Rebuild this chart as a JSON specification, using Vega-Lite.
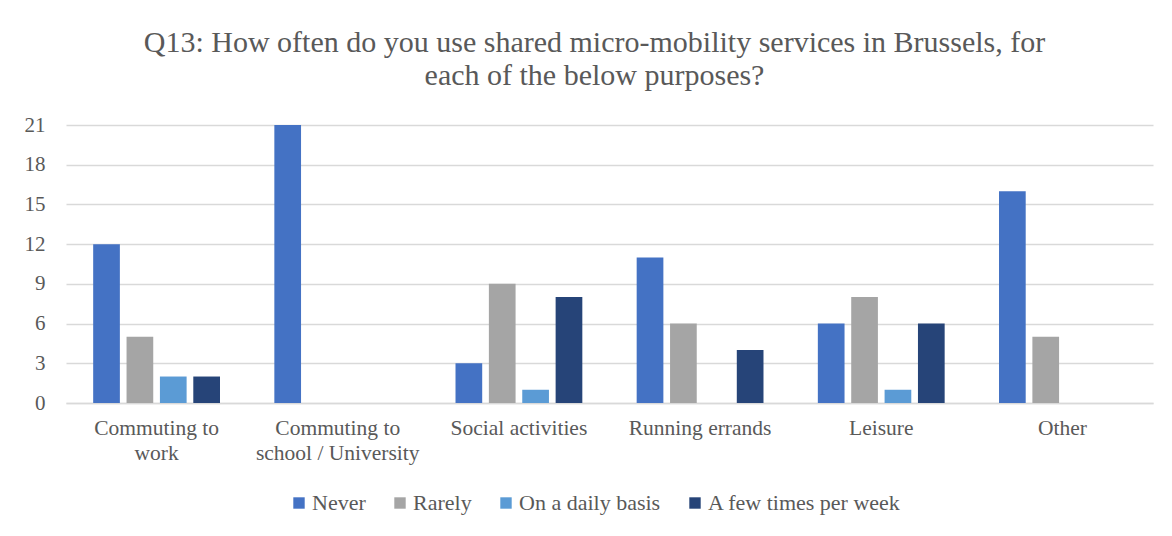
{
  "$schema": "https://vega.github.io/schema/vega-lite/v6.json",
  "width": 1087,
  "height": 278,
  "autosize": {"type": "none"},
  "padding": {"left": 66, "top": 125, "right": 19, "bottom": 133},
  "background": "white",
  "title": {
    "text": ["Q13: How often do you use shared micro-mobility services in Brussels, for", "each of the below purposes?"],
    "font": "Liberation Serif",
    "fontSize": 30,
    "fontWeight": "normal",
    "color": "#595959",
    "anchor": "middle",
    "frame": "group",
    "dx": -15,
    "offset": 23,
    "lineHeight": 33
  },
  "data": {
    "values": [
      {"purpose": "Commuting to work", "frequency": "Never", "count": 12},
      {"purpose": "Commuting to work", "frequency": "Rarely", "count": 5},
      {"purpose": "Commuting to work", "frequency": "On a daily basis", "count": 2},
      {"purpose": "Commuting to work", "frequency": "A few times per week", "count": 2},
      {"purpose": "Commuting to school / University", "frequency": "Never", "count": 21},
      {"purpose": "Commuting to school / University", "frequency": "Rarely", "count": 0},
      {"purpose": "Commuting to school / University", "frequency": "On a daily basis", "count": 0},
      {"purpose": "Commuting to school / University", "frequency": "A few times per week", "count": 0},
      {"purpose": "Social activities", "frequency": "Never", "count": 3},
      {"purpose": "Social activities", "frequency": "Rarely", "count": 9},
      {"purpose": "Social activities", "frequency": "On a daily basis", "count": 1},
      {"purpose": "Social activities", "frequency": "A few times per week", "count": 8},
      {"purpose": "Running errands", "frequency": "Never", "count": 11},
      {"purpose": "Running errands", "frequency": "Rarely", "count": 6},
      {"purpose": "Running errands", "frequency": "On a daily basis", "count": 0},
      {"purpose": "Running errands", "frequency": "A few times per week", "count": 4},
      {"purpose": "Leisure", "frequency": "Never", "count": 6},
      {"purpose": "Leisure", "frequency": "Rarely", "count": 8},
      {"purpose": "Leisure", "frequency": "On a daily basis", "count": 1},
      {"purpose": "Leisure", "frequency": "A few times per week", "count": 6},
      {"purpose": "Other", "frequency": "Never", "count": 16},
      {"purpose": "Other", "frequency": "Rarely", "count": 5},
      {"purpose": "Other", "frequency": "On a daily basis", "count": 0},
      {"purpose": "Other", "frequency": "A few times per week", "count": 0}
    ]
  },
  "mark": {"type": "bar"},
  "encoding": {
    "x": {
      "field": "purpose",
      "type": "nominal",
      "sort": null,
      "scale": {"paddingInner": 0.3, "paddingOuter": 0.15},
      "axis": {
        "title": null,
        "labelAngle": 0,
        "labelFont": "Liberation Serif",
        "labelFontSize": 21.5,
        "labelColor": "#595959",
        "labelPadding": 14,
        "labelLineHeight": 25,
        "labelLimit": 300,
        "ticks": false,
        "domainColor": "#d9d9d9",
        "domainWidth": 1.5,
        "labelExpr": "datum.value == 'Commuting to work' ? ['Commuting to', 'work'] : datum.value == 'Commuting to school / University' ? ['Commuting to', 'school / University'] : datum.value"
      }
    },
    "xOffset": {
      "field": "frequency",
      "type": "nominal",
      "sort": ["Never", "Rarely", "On a daily basis", "A few times per week"],
      "scale": {"paddingInner": 0.2, "paddingOuter": 0}
    },
    "y": {
      "field": "count",
      "type": "quantitative",
      "scale": {"domain": [0, 21], "nice": false},
      "axis": {
        "title": null,
        "values": [0, 3, 6, 9, 12, 15, 18, 21],
        "labelFont": "Liberation Serif",
        "labelFontSize": 21,
        "labelColor": "#595959",
        "labelPadding": 21,
        "ticks": false,
        "domain": false,
        "gridColor": "#d9d9d9",
        "gridWidth": 1.5
      }
    },
    "color": {
      "field": "frequency",
      "type": "nominal",
      "sort": ["Never", "Rarely", "On a daily basis", "A few times per week"],
      "scale": {
        "domain": ["Never", "Rarely", "On a daily basis", "A few times per week"],
        "range": ["#4472C4", "#A5A5A5", "#5B9BD5", "#264478"]
      },
      "legend": {
        "title": null,
        "orient": "none",
        "direction": "horizontal",
        "legendX": 222,
        "legendY": 367,
        "symbolType": "square",
        "symbolSize": 130,
        "symbolStrokeWidth": 0,
        "labelFont": "Liberation Serif",
        "labelFontSize": 22,
        "labelColor": "#595959",
        "labelOffset": 2,
        "labelLimit": 400,
        "columnPadding": 23
      }
    }
  },
  "config": {
    "font": "Liberation Serif",
    "view": {"stroke": null},
    "axis": {"labelFont": "Liberation Serif"},
    "legend": {"labelFont": "Liberation Serif"}
  }
}
